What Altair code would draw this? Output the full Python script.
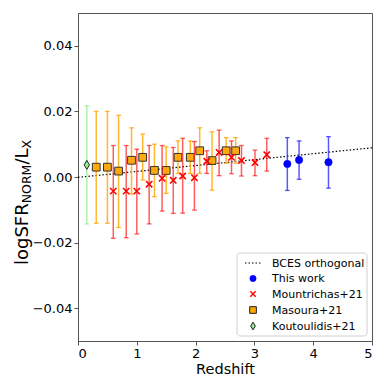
import altair as alt
import pandas as pd

FONT = "DejaVu Sans"

# ---------------- data ----------------
bces_z = [0.0, 5.0]
bces_v = [-0.0001, 0.0089]

this_z = [3.56, 3.76, 4.26]
this_v = [0.0040, 0.0052, 0.0045]
this_hi = [0.0120, 0.0110, 0.0123]
this_lo = [-0.0041, -0.0007, -0.0034]

mount_z = [0.60, 0.82, 1.00, 1.21, 1.43, 1.62, 1.78, 1.98, 2.19, 2.40, 2.61, 2.78, 3.01, 3.21]
mount_v = [-0.0043, -0.0043, -0.0043, -0.0022, -0.0004, -0.0010, 0.0003, -0.0002,
           0.0048, 0.0075, 0.0060, 0.0050, 0.0044, 0.0068]
mount_hi = [0.0096, 0.0096, 0.0085, 0.0096, 0.0096, 0.0090, 0.0118, 0.0108,
            0.0080, 0.0143, 0.0110, 0.0096, 0.0082, 0.0118]
mount_lo = [-0.0187, -0.0185, -0.0174, -0.0143, -0.0104, -0.0111, -0.0110, -0.0101,
            0.0011, 0.0004, 0.0010, 0.0003, 0.0004, 0.0018]

mas_z = [0.31, 0.50, 0.69, 0.91, 1.10, 1.30, 1.50, 1.70, 1.91, 2.07, 2.28, 2.52, 2.68]
mas_v = [0.0030, 0.0030, 0.0018, 0.0051, 0.0060, 0.0020, 0.0020, 0.0060, 0.0060,
         0.0080, 0.0050, 0.0080, 0.0080]
mas_hi = [0.0200, 0.0200, 0.0188, 0.0150, 0.0131, 0.0100, 0.0092, 0.0110, 0.0110,
          0.0150, 0.0138, 0.0120, 0.0120]
mas_lo = [-0.0141, -0.0141, -0.0154, -0.0052, -0.0009, -0.0060, -0.0050, 0.0011, 0.0011,
          0.0011, -0.0040, 0.0042, 0.0042]

kou_z = [0.15]
kou_v = [0.0037]
kou_hi = [0.0217]
kou_lo = [-0.0143]

legend_labels = ["BCES orthogonal", "This work", "Mountrichas+21", "Masoura+21", "Koutoulidis+21"]

x_ticks = [0, 1, 2, 3, 4, 5]
y_ticks = [-0.04, -0.02, 0.0, 0.02, 0.04]

# ---------------- scales ----------------
xs = alt.Scale(domain=[0, 5], nice=False, zero=False)
ys = alt.Scale(domain=[-0.05, 0.05], nice=False, zero=False)

X_AX = alt.Axis(values=x_ticks, format="d", title="Redshift", grid=False,
                titleFontSize=14.5, titleFont=FONT, titleFontWeight="normal",
                titleColor="black", titlePadding=2)
Y_AX = alt.Axis(values=y_ticks, format=".2f", title=None, grid=False)

X_PATH = "M-1,-1L1,1M-1,1L1,-1"
THIN_DIAMOND = "M0,-1L0.6,0L0,1L-0.6,0Z"


def series(z, v, lo, hi, bar_color, shape, size, fill, stroke, sw, filled, bar_op, pt_op=1.0):
    df = pd.DataFrame({"z": z, "v": v, "lo": lo, "hi": hi})
    base = alt.Chart(df)
    bars = base.mark_rule(color=bar_color, strokeWidth=1.5, opacity=bar_op).encode(
        x=alt.X("z:Q", scale=xs, axis=X_AX),
        y=alt.Y("lo:Q", scale=ys, axis=Y_AX),
        y2="hi:Q",
    )
    cap_lo = base.mark_point(shape="stroke", size=22, color=bar_color, strokeWidth=1.3,
                             opacity=bar_op, filled=False).encode(
        x=alt.X("z:Q", scale=xs), y=alt.Y("lo:Q", scale=ys))
    cap_hi = base.mark_point(shape="stroke", size=22, color=bar_color, strokeWidth=1.3,
                             opacity=bar_op, filled=False).encode(
        x=alt.X("z:Q", scale=xs), y=alt.Y("hi:Q", scale=ys))
    if filled:
        pts = base.mark_point(shape=shape, size=size, filled=True, fill=fill, stroke=stroke,
                              strokeWidth=sw, opacity=pt_op).encode(
            x=alt.X("z:Q", scale=xs), y=alt.Y("v:Q", scale=ys))
    else:
        pts = base.mark_point(shape=shape, size=size, filled=False, stroke=stroke,
                              strokeWidth=sw, opacity=pt_op).encode(
            x=alt.X("z:Q", scale=xs), y=alt.Y("v:Q", scale=ys))
    return [bars, cap_lo, cap_hi, pts]


bces_df = pd.DataFrame({"z": bces_z, "v": bces_v})
bces = alt.Chart(bces_df).mark_line(color="black", strokeWidth=1.2, strokeDash=[1.5, 2]).encode(
    x=alt.X("z:Q", scale=xs, axis=X_AX), y=alt.Y("v:Q", scale=ys, axis=Y_AX))

layers = [bces]
layers += series(kou_z, kou_v, kou_lo, kou_hi, "#90ee90", THIN_DIAMOND, 80,
                 "#90ee90", "#222222", 1, True, 0.75)
layers += series(mas_z, mas_v, mas_lo, mas_hi, "#ffa500", "square", 60,
                 "#ffa500", "#222222", 1, True, 0.8, 0.92)
layers += series(mount_z, mount_v, mount_lo, mount_hi, "#ff1a1a", X_PATH, 40,
                 None, "#ff0000", 1.6, False, 0.7)
layers += series(this_z, this_v, this_lo, this_hi, "#2020ff", "circle", 55,
                 "#0000ff", "#0000ff", 0.5, True, 0.75)

# ---------------- legend (manual, inside plot) ----------------
one = pd.DataFrame({"a": [0]})
leg_box = alt.Chart(one).mark_rect(fill="white", stroke="#cccccc", strokeWidth=1,
                                   cornerRadius=3, opacity=0.9).encode(
    x=alt.value(159), x2=alt.value(289), y=alt.value(240), y2=alt.value(323))
layers.append(leg_box)
row_y = [250, 265.5, 281, 297, 313]
layers.append(alt.Chart(one).mark_rule(color="black", strokeWidth=1.2, strokeDash=[1.5, 2]).encode(
    x=alt.value(167), x2=alt.value(183), y=alt.value(row_y[0])))
layers.append(alt.Chart(one).mark_point(shape="circle", size=40, filled=True, fill="#0000ff",
                                        stroke="#0000ff", strokeWidth=0.5, opacity=1).encode(
    x=alt.value(175), y=alt.value(row_y[1])))
layers.append(alt.Chart(one).mark_point(shape=X_PATH, size=30, filled=False, stroke="#ff0000",
                                        strokeWidth=1.4, opacity=1).encode(
    x=alt.value(175), y=alt.value(row_y[2])))
layers.append(alt.Chart(one).mark_point(shape="square", size=45, filled=True, fill="#ffa500",
                                        stroke="#222222", strokeWidth=1, opacity=1).encode(
    x=alt.value(175), y=alt.value(row_y[3])))
layers.append(alt.Chart(one).mark_point(shape=THIN_DIAMOND, size=60, filled=True, fill="#90ee90",
                                        stroke="#222222", strokeWidth=1, opacity=1).encode(
    x=alt.value(175), y=alt.value(row_y[4])))
for lab, ry in zip(legend_labels, row_y):
    layers.append(alt.Chart(pd.DataFrame({"t": [lab]})).mark_text(
        font=FONT, fontSize=11, align="left", baseline="middle", color="black").encode(
        text="t:N", x=alt.value(194), y=alt.value(ry + 0.5)))

# ---------------- y-axis title with subscripts ----------------
F = 18
f = 12.5
start = 252
segs = [("logSFR", F, 0, 3.43 * F), ("NORM", f, 3, 3.093 * f), ("/L", F, 0, 0.894 * F), ("X", f, 3, 0.685 * f)]
pos = start
for txt, fs, shift, w in segs:
    layers.append(alt.Chart(pd.DataFrame({"t": [txt]})).mark_text(
        font=FONT, fontSize=fs, angle=270, align="left", baseline="alphabetic", color="black").encode(
        text="t:N", x=alt.value(-50 + shift), y=alt.value(pos)))
    pos -= w

chart = alt.layer(*layers).properties(
    width=294, height=328,
    padding={"left": 70, "top": 5, "right": 10, "bottom": 41},
    autosize=alt.AutoSizeParams(type="none"),
).configure_view(stroke="#555555", strokeWidth=1).configure_axis(
    domainColor="#555555", tickColor="#555555", tickSize=4, labelFont=FONT,
    labelFontSize=13, labelColor="black", titleFont=FONT,
).configure_axisX(labelPadding=2).configure_axisY(labelPadding=2)

chart.save("out.html", embed_options={"renderer": "svg", "actions": False})
